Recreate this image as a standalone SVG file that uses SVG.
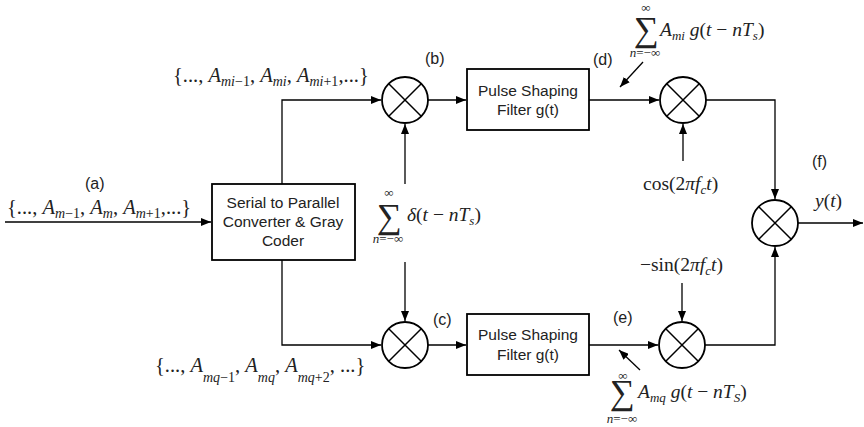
<svg xmlns="http://www.w3.org/2000/svg" width="864" height="427" viewBox="0 0 864 427">
<defs>
<marker id="ah" viewBox="0 0 10 8" refX="10" refY="4" markerWidth="10" markerHeight="8" markerUnits="userSpaceOnUse" orient="auto">
<path d="M0,0 L10,4 L0,8 Z" fill="#000"/>
</marker>
</defs>
<style>
.ln{fill:none;stroke:#000;stroke-width:1.3}
.bx{fill:#fff;stroke:#000;stroke-width:1.8}
.cc{fill:#fff;stroke:#000;stroke-width:1.8}
.x{stroke:#000;stroke-width:1.5}
.sf{font-family:"Liberation Sans",Arial,sans-serif;font-size:16px;fill:#222}
.bt{font-family:"Liberation Sans",Arial,sans-serif;font-size:15.5px;fill:#222;text-anchor:middle}
.m{font-family:"Liberation Serif","Times New Roman",serif;font-size:19.5px;fill:#222}
.set{font-size:20.5px}
.mi{font-style:italic}
.sub{font-size:13px}
.set .sub{font-size:14px}
.sig{font-family:"Liberation Serif","Times New Roman",serif;font-size:35px;fill:#222}
.lim{font-family:"Liberation Serif","Times New Roman",serif;font-size:13px;fill:#222;text-anchor:middle}
</style>

<g id="connectors">
<path class="ln" d="M5,222 H211" marker-end="url(#ah)"/>
<path class="ln" d="M282,184 V100 H381" marker-end="url(#ah)"/>
<path class="ln" d="M282,260 V345 H381" marker-end="url(#ah)"/>
<path class="ln" d="M405,184 V124" marker-end="url(#ah)"/>
<path class="ln" d="M405,262 V321" marker-end="url(#ah)"/>
<path class="ln" d="M428,100 H466" marker-end="url(#ah)"/>
<path class="ln" d="M428,345 H466" marker-end="url(#ah)"/>
<path class="ln" d="M589,100 H659" marker-end="url(#ah)"/>
<path class="ln" d="M589,345 H658" marker-end="url(#ah)"/>
<path class="ln" d="M683,161 V124" marker-end="url(#ah)"/>
<path class="ln" d="M682,283 V321" marker-end="url(#ah)"/>
<path class="ln" d="M706,100 H775 V199" marker-end="url(#ah)"/>
<path class="ln" d="M705,345 H775 V247" marker-end="url(#ah)"/>
<path class="ln" d="M798,223 H863" marker-end="url(#ah)"/>
<path class="ln" d="M643,62 L620,87" marker-end="url(#ah)"/>
<path class="ln" d="M640,370 L619,350" marker-end="url(#ah)"/>
</g>

<g id="serial">
<rect class="bx" x="212" y="184" width="143" height="76"/>
<text class="bt" x="283" y="208" font-size="16.5">Serial to Parallel</text>
<text class="bt" x="283" y="227" font-size="16.5">Converter &amp; Gray</text>
<text class="bt" x="283" y="246" font-size="16.5">Coder</text>
</g>

<g id="mult-b">
<circle class="cc" cx="405" cy="100" r="23"/>
<path class="x" d="M389,84 L421,116 M421,84 L389,116"/>
</g>
<g id="mult-c">
<circle class="cc" cx="405" cy="345" r="23"/>
<path class="x" d="M389,329 L421,361 M421,329 L389,361"/>
</g>

<g id="filter-top">
<rect class="bx" x="467" y="69" width="122" height="61"/>
<text class="bt" x="528" y="96">Pulse Shaping</text>
<text class="bt" x="528" y="115">Filter g(t)</text>
</g>
<g id="filter-bottom">
<rect class="bx" x="467" y="314" width="122" height="61"/>
<text class="bt" x="528" y="340">Pulse Shaping</text>
<text class="bt" x="528" y="360">Filter g(t)</text>
</g>

<g id="mult-d">
<circle class="cc" cx="683" cy="100" r="23"/>
<path class="x" d="M667,84 L699,116 M699,84 L667,116"/>
</g>
<g id="mult-e">
<circle class="cc" cx="682" cy="345" r="23"/>
<path class="x" d="M666,329 L698,361 M698,329 L666,361"/>
</g>
<g id="mult-f">
<circle class="cc" cx="775" cy="223" r="23"/>
<path class="x" d="M759,207 L791,239 M791,207 L759,239"/>
</g>

<g id="labels">
<text class="sf" x="85" y="189">(a)</text>
<text class="sf" x="425" y="64">(b)</text>
<text class="sf" x="433" y="325">(c)</text>
<text class="sf" x="593" y="65">(d)</text>
<text class="sf" x="613" y="323">(e)</text>
<text class="sf" x="812" y="167">(f)</text>

<text class="m set" x="7" y="214">{..., <tspan class="mi">A</tspan><tspan class="sub mi" dy="4">m</tspan><tspan class="sub">−1</tspan><tspan dy="-4">, </tspan><tspan class="mi">A</tspan><tspan class="sub mi" dy="4">m</tspan><tspan dy="-4">, </tspan><tspan class="mi">A</tspan><tspan class="sub mi" dy="4">m</tspan><tspan class="sub">+1</tspan><tspan dy="-4">,...}</tspan></text>

<text class="m set" x="173" y="82">{..., <tspan class="mi">A</tspan><tspan class="sub mi" dy="4">mi</tspan><tspan class="sub">−1</tspan><tspan dy="-4">, </tspan><tspan class="mi">A</tspan><tspan class="sub mi" dy="4">mi</tspan><tspan dy="-4">, </tspan><tspan class="mi">A</tspan><tspan class="sub mi" dy="4">mi</tspan><tspan class="sub">+1</tspan><tspan dy="-4">,...}</tspan></text>

<text class="m set" x="155" y="372">{..., <tspan class="mi">A</tspan><tspan class="sub mi" dy="10">mq</tspan><tspan class="sub">−1</tspan><tspan dy="-10">, </tspan><tspan class="mi">A</tspan><tspan class="sub mi" dy="10">mq</tspan><tspan dy="-10">, </tspan><tspan class="mi">A</tspan><tspan class="sub mi" dy="10">mq</tspan><tspan class="sub">+2</tspan><tspan dy="-10">, ...}</tspan></text>

<text class="sig" x="377" y="228">∑</text>
<text class="lim" x="389" y="197">∞</text>
<text class="lim" x="388" y="243"><tspan class="mi">n</tspan>=−∞</text>
<text class="m" x="407" y="221" font-size="17.5"><tspan class="mi">δ</tspan>(<tspan class="mi">t</tspan> − <tspan class="mi">nT</tspan><tspan class="sub mi" dy="4">s</tspan><tspan dy="-4">)</tspan></text>

<text class="sig" x="634" y="41">∑</text>
<text class="lim" x="646" y="12">∞</text>
<text class="lim" x="645" y="57"><tspan class="mi">n</tspan>=−∞</text>
<text class="m" x="660" y="36" font-size="20"><tspan class="mi">A</tspan><tspan class="sub mi" dy="4">mi</tspan><tspan dy="-4"> </tspan><tspan class="mi">g</tspan>(<tspan class="mi">t</tspan> − <tspan class="mi">nT</tspan><tspan class="sub mi" dy="4">s</tspan><tspan dy="-4">)</tspan></text>

<text class="sig" x="610" y="404">∑</text>
<text class="lim" x="623" y="380">∞</text>
<text class="lim" x="622" y="423"><tspan class="mi">n</tspan>=−∞</text>
<text class="m" x="638" y="398" font-size="21"><tspan class="mi">A</tspan><tspan class="sub mi" dy="4" font-size="15">mq</tspan><tspan dy="-4"> </tspan><tspan class="mi">g</tspan>(<tspan class="mi">t</tspan> − <tspan class="mi">nT</tspan><tspan class="sub mi" dy="4">S</tspan><tspan dy="-4">)</tspan></text>

<text class="m" x="643" y="190">cos(2<tspan class="mi">πf</tspan><tspan class="sub mi" dy="4">c</tspan><tspan class="mi" dy="-4">t</tspan>)</text>
<text class="m" x="640" y="271">−sin(2<tspan class="mi">πf</tspan><tspan class="sub mi" dy="4">c</tspan><tspan class="mi" dy="-4">t</tspan>)</text>
<text class="m" x="815" y="207" font-size="20"><tspan class="mi">y</tspan>(<tspan class="mi">t</tspan>)</text>
</g>
</svg>
